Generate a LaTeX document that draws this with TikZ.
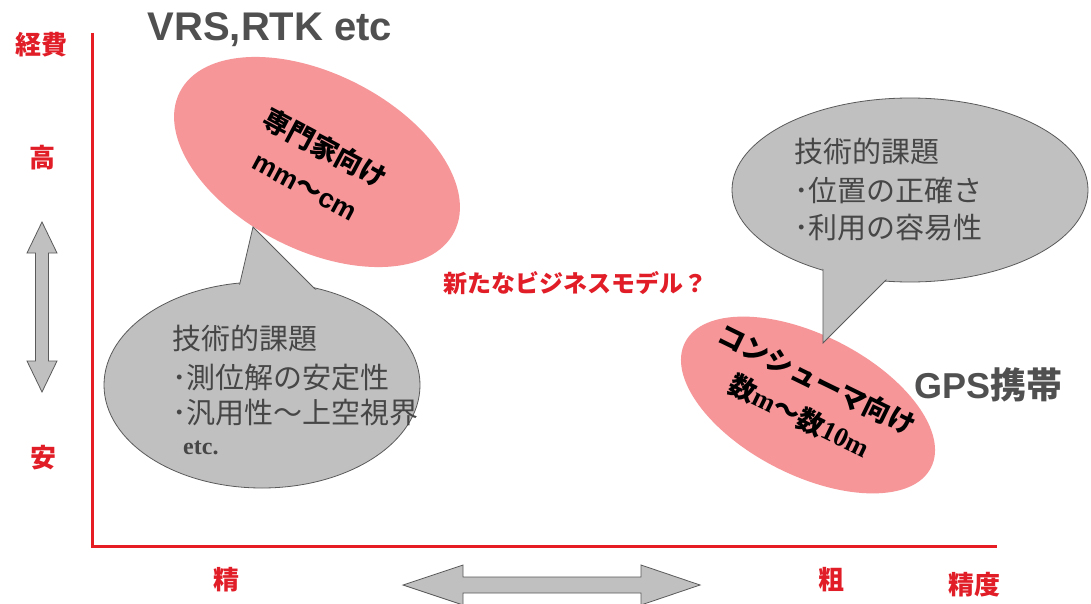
\documentclass[tikz,border=0pt]{standalone}
\usepackage{fontspec}
\setmainfont{Liberation Sans}
\newfontfamily\jp{Noto Sans CJK JP}
\newfontfamily\lserif{Liberation Serif}
\usetikzlibrary{shapes.geometric}
\definecolor{axisred}{RGB}{230,30,35}
\definecolor{pinkfill}{RGB}{246,150,153}
\definecolor{bubblefill}{RGB}{192,192,192}
\definecolor{bubbleline}{RGB}{90,90,90}
\definecolor{darktext}{RGB}{80,80,80}
\definecolor{bubbletext}{RGB}{70,70,70}
\definecolor{labelred}{RGB}{225,30,40}
\begin{document}
\begin{tikzpicture}[x=1pt,y=-1pt,
 pinkell/.style={ellipse, fill=pinkfill, inner sep=0pt},
 bubble/.style={ellipse, fill=bubblefill, draw=bubbleline, line width=0.8pt, inner sep=0pt},
 bubblecover/.style={ellipse, fill=bubblefill, inner sep=0pt},
 tail/.style={fill=bubblefill, draw=bubbleline, line width=0.8pt, line join=miter},
 redlabel/.style={text=labelred, font=\jp\bfseries\fontsize{26}{28}\selectfont, inner sep=0pt},
 bubbletxt/.style={text=bubbletext, font=\jp\fontsize{29}{37}\selectfont, inner sep=0pt, anchor=base west},
 bigsans/.style={text=darktext, inner sep=0pt},
 arrowshape/.style={fill=bubblefill, draw=bubbleline, line width=0.8pt},
 axis/.style={draw=axisred, line width=3pt}
]
\useasboundingbox (0,0) rectangle (1091,604);
\fill[white] (0,0) rectangle (1091,604);

% axes
\coordinate (ytop) at (92,33);
\coordinate (origin) at (92,546);
\coordinate (xend) at (997,546);
\draw[axis] (ytop) -- (origin) -- (xend);

% axis labels
\node[redlabel] (keihi) at (42,45) {経費};
\node[redlabel] (kou) at (42,158) {高};
\node[redlabel] (an) at (43,458) {安};
\node[redlabel] (sei) at (226,580) {精};
\node[redlabel] (so) at (831,580) {粗};
\node[redlabel] (seido) at (974,585) {精度};

% double arrows
\filldraw[arrowshape] (42,222) -- (57,253) -- (48.5,253) -- (48.5,361) -- (57,361) -- (42,392) -- (27,361) -- (35.5,361) -- (35.5,253) -- (27,253) -- cycle;
\filldraw[arrowshape] (403,585) -- (463,565) -- (463,577) -- (641,577) -- (641,565) -- (700,585) -- (641,605) -- (641,593) -- (463,593) -- (463,605) -- cycle;

% titles
\node[bigsans, font=\bfseries\fontsize{40}{44}\selectfont] (vrs) at (270,30) {VRS,RTK etc};
\node[bigsans, font=\bfseries\fontsize{36}{40}\selectfont] (gps) at (988,385) {GPS{\jp 携帯}};
\node[text=labelred, font=\jp\bfseries\fontsize{24}{26}\selectfont, inner sep=0pt] (biz) at (575,283) {新たなビジネスモデル？};

% pink ellipses
\node[pinkell, minimum width=308pt, minimum height=176pt, rotate=-27] (expert) at (317,162) {};
\node[font=\bfseries\fontsize{27}{42}\selectfont, align=center, rotate=-28, inner sep=0pt] (experttxt) at (316,166) {{\jp 専門家向け}\\mm{\jp ～}cm};

\node[pinkell, minimum width=276pt, minimum height=140pt, rotate=-27] (consumer) at (808,405) {};
\node[font=\jp\bfseries\fontsize{27}{40}\selectfont, align=center, rotate=-26, inner sep=0pt] (consumertxt) at (808,398) {コンシューマ向け\\数{\lserif m}～数{\lserif 10m}};

% left bubble
\node[bubble, minimum width=316pt, minimum height=206pt] (lbub) at (262,385) {};
\coordinate (ltip) at (253,227);
\coordinate (lbase1) at (236,300);
\coordinate (lbase2) at (318,292);
\filldraw[tail] (lbase1) -- (ltip) -- (lbase2);
\node[bubblecover, minimum width=313pt, minimum height=203pt] (lcover) at (262,385) {};
\node[bubbletxt] (l1) at (172,349) {技術的課題};
\node[bubbletxt] (l2) at (172,388) {･測位解の安定性};
\node[bubbletxt] (l3) at (172,423) {･汎用性～上空視界};
\node[text=bubbletext, font=\lserif\bfseries\fontsize{24}{26}\selectfont, inner sep=0pt, anchor=base west] (l4) at (183,454) {etc.};

% right bubble
\node[bubble, minimum width=356pt, minimum height=184pt] (rbub) at (910,190) {};
\coordinate (rtip) at (823,343);
\coordinate (rbase1) at (823,262);
\coordinate (rbase2) at (898,268);
\filldraw[tail] (rbase1) -- (rtip) -- (rbase2);
\node[bubblecover, minimum width=353pt, minimum height=181pt] (rcover) at (910,190) {};
\node[bubbletxt] (r1) at (794,163) {技術的課題};
\node[bubbletxt] (r2) at (794,201) {･位置の正確さ};
\node[bubbletxt] (r3) at (794,238) {･利用の容易性};
\end{tikzpicture}
\end{document}
